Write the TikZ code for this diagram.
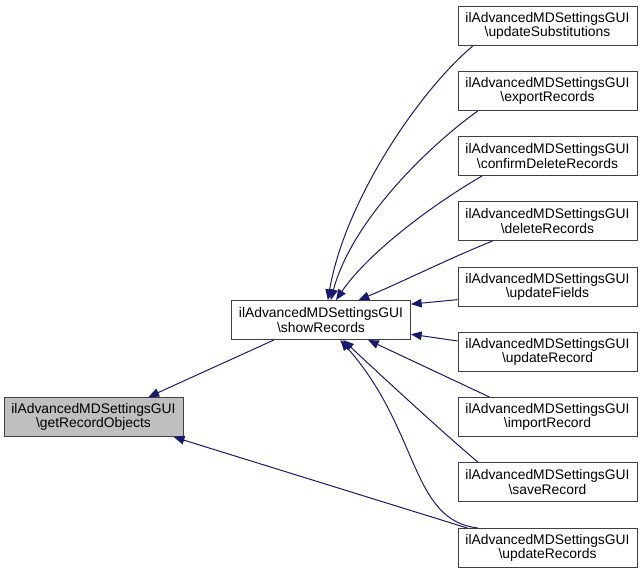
\documentclass[tikz,border=0pt]{standalone}
\usepackage{fontspec}
\setmainfont{Liberation Sans}
\usepackage{tikz}
\usetikzlibrary{positioning,arrows.meta}
\definecolor{edgeblue}{HTML}{191970}
\definecolor{framegray}{HTML}{404040}
\tikzstyle{func}  = [rectangle, draw=framegray, line width=0.75pt, fill=white, align=center,
                     minimum width=134.25pt, minimum height=29.25pt, inner sep=0pt,
                     font=\fontsize{10.4}{10.8}\selectfont]
\tikzstyle{cur}   = [func, fill=gray!50]
\tikzstyle{call}  = [edgeblue, line width=0.75pt, -{Triangle[length=8pt,width=6.5pt]}]

\begin{document}
\begin{tikzpicture}[x=0.75pt,y=-0.75pt]
	\useasboundingbox (0,0) rectangle (643,575);

	\node[cur]  (getrec)  at (93.5,417) {ilAdvancedMDSettingsGUI\\\textbackslash getRecordObjects};
	\node[func] (show)    at (321,320)  {ilAdvancedMDSettingsGUI\\\textbackslash showRecords};

	\node[func] (subst)   at (547.5,26)  {ilAdvancedMDSettingsGUI\\\textbackslash updateSubstitutions};
	\node[func] (export)  at (547.5,91)  {ilAdvancedMDSettingsGUI\\\textbackslash exportRecords};
	\node[func] (confirm) at (547.5,156) {ilAdvancedMDSettingsGUI\\\textbackslash confirmDeleteRecords};
	\node[func] (delete)  at (547.5,221) {ilAdvancedMDSettingsGUI\\\textbackslash deleteRecords};
	\node[func] (fields)  at (547.5,287) {ilAdvancedMDSettingsGUI\\\textbackslash updateFields};
	\node[func] (record)  at (547.5,352) {ilAdvancedMDSettingsGUI\\\textbackslash updateRecord};
	\node[func] (import)  at (547.5,417) {ilAdvancedMDSettingsGUI\\\textbackslash importRecord};
	\node[func] (save)    at (547.5,482) {ilAdvancedMDSettingsGUI\\\textbackslash saveRecord};
	\node[func] (records) at (547.5,548) {ilAdvancedMDSettingsGUI\\\textbackslash updateRecords};

	\draw[call] (show.203) -- (getrec.20);
	\draw[call] (records.166) -- (getrec.346);

	\draw[call] (subst.195) .. controls (420,90) and (345,200) .. (show.71);
	\draw[call] (export.196) .. controls (430,145) and (352,220) .. (show.64);
	\draw[call] (confirm.197) .. controls (440,200) and (370,250) .. (show.53);
	\draw[call] (delete.200) .. controls (450,258) and (400,283) .. (show.28);
	\draw[call] (fields.188) -- (show.10);
	\draw[call] (record.173) -- (show.351);
	\draw[call] (import.161) -- (show.337);
	\draw[call] (save.164) .. controls (440,430) and (375,370) .. (show.318);
	\draw[call] (records.164) .. controls (410,520) and (420,430) .. (show.314);
\end{tikzpicture}
\end{document}
